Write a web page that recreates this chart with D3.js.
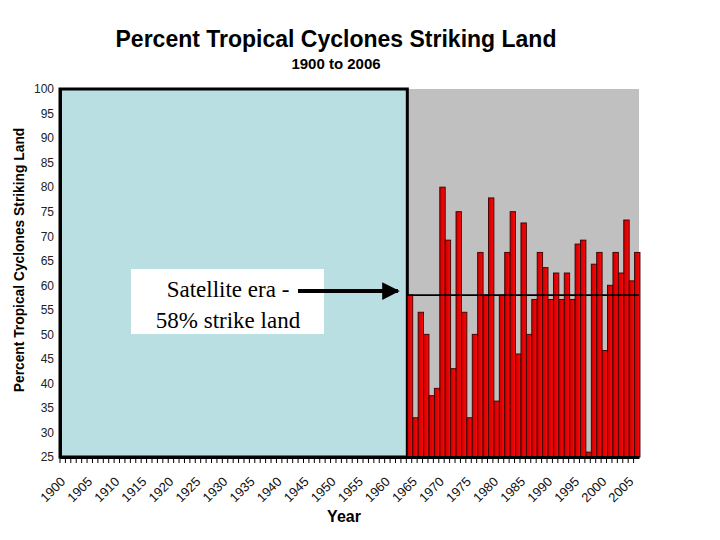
<!DOCTYPE html>
<html>
<head>
<meta charset="utf-8">
<script src="https://cdn.jsdelivr.net/npm/d3@7"></script>
<style>
  body { margin: 0; background: #fff; }
  text { font-family: "Liberation Sans", Arial, sans-serif; }
</style>
</head>
<body>
<div id="chart"></div>
<script>
// years 1900..2006 on the axis, bars only for the satellite era
const firstYear = 1900, lastYear = 2006;
const satelliteStart = 1964;
const percentLand = [
  58, 33, 54.5, 50, 37.5, 39, 80, 69.2, 43, 75,
  54.5, 33, 50, 66.7, 58, 77.8, 36.4, 58, 66.7, 75,
  46, 72.7, 50, 57.1, 66.7, 63.6, 57.1, 62.5, 57.1, 62.5,
  57.1, 68.4, 69.2, 26, 64.3, 66.7, 46.7, 60, 66.7, 62.5,
  73.3, 60.9, 66.7
];
const satelliteMean = 58;
const yTicks = [25, 30, 35, 40, 45, 50, 55, 60, 65, 70, 75, 80, 85, 90, 95, 100];
const annotationLines = ["Satellite era -", "58% strike land"];

const width = 720, height = 540;
const plot = { left: 60, right: 639, top: 89, bottom: 457 };

const years = d3.range(firstYear, lastYear + 1);
const bars = percentLand.map((v, i) => ({ year: satelliteStart + i, value: v }));

const svg = d3.select("#chart").append("svg")
    .attr("width", width)
    .attr("height", height);

const x = d3.scaleBand().domain(years).range([plot.left, plot.right]).padding(0);
const y = d3.scaleLinear().domain([25, 100]).range([plot.bottom, plot.top]);

const defs = svg.append("defs");
const grad = defs.append("linearGradient")
    .attr("id", "barFill").attr("x1", "0").attr("x2", "1");
grad.append("stop").attr("offset", "0%").attr("stop-color", "#c80000");
grad.append("stop").attr("offset", "100%").attr("stop-color", "#ff0808");

defs.append("marker")
    .attr("id", "arrow")
    .attr("viewBox", "0 0 10 10")
    .attr("refX", 9).attr("refY", 5)
    .attr("markerWidth", 5).attr("markerHeight", 4.4)
    .attr("markerUnits", "strokeWidth")
    .attr("orient", "auto")
    .append("path").attr("d", "M0,0L10,5L0,10Z").attr("fill", "#000");

// plot background
svg.append("rect")
    .attr("x", plot.left).attr("y", plot.top)
    .attr("width", plot.right - plot.left).attr("height", plot.bottom - plot.top)
    .attr("fill", "#c0c0c0");

// pre-satellite box
svg.append("rect")
    .attr("x", x(firstYear)).attr("y", y(100))
    .attr("width", x(satelliteStart) - x(firstYear) + 1).attr("height", y(25) - y(100))
    .attr("fill", "#b9dfe3")
    .attr("stroke", "#000").attr("stroke-width", 3);

svg.append("g").selectAll("rect")
    .data(bars)
    .enter().append("rect")
    .attr("x", d => x(d.year) + 1)
    .attr("y", d => y(d.value))
    .attr("width", x.bandwidth())
    .attr("height", d => y(25) - y(d.value))
    .attr("fill", "url(#barFill)")
    .attr("stroke", "#3a0000")
    .attr("stroke-width", 0.9);

// mean line
svg.append("line")
    .attr("x1", x(satelliteStart)).attr("x2", plot.right)
    .attr("y1", y(satelliteMean)).attr("y2", y(satelliteMean))
    .attr("stroke", "#000").attr("stroke-width", 1.6);

// y axis
const yAxis = svg.append("g")
    .attr("transform", `translate(${plot.left},0)`)
    .call(d3.axisLeft(y).tickValues(yTicks).tickSize(0).tickPadding(6));
yAxis.select(".domain").attr("stroke", "#000").attr("stroke-width", 3);
yAxis.selectAll("text").attr("font-size", 12).attr("fill", "#222");

// x axis
const xAxis = svg.append("g")
    .attr("transform", `translate(0,${plot.bottom})`)
    .call(d3.axisBottom(x).tickSize(0).tickFormat(""));
xAxis.select(".domain").attr("stroke", "#000").attr("stroke-width", 3);
svg.append("g").selectAll("line")
    .data(years)
    .enter().append("line")
    .attr("x1", d => x(d)).attr("x2", d => x(d))
    .attr("y1", plot.bottom).attr("y2", plot.bottom + 6)
    .attr("stroke", "#000").attr("stroke-width", 1);

svg.append("g").selectAll("text")
    .data(years.filter(d => d % 5 === 0))
    .enter().append("text")
    .attr("transform", d => `translate(${x(d) + x.bandwidth() / 2 - 3},${plot.bottom + 19}) rotate(-45)`)
    .attr("text-anchor", "end")
    .attr("dy", "0.7em")
    .attr("font-size", 13)
    .attr("fill", "#111")
    .text(d => d);

// titles
svg.append("text")
    .attr("x", 336).attr("y", 47)
    .attr("text-anchor", "middle")
    .attr("font-size", 23).attr("font-weight", "bold")
    .text("Percent Tropical Cyclones Striking Land");
svg.append("text")
    .attr("x", 336).attr("y", 69)
    .attr("text-anchor", "middle")
    .attr("font-size", 15).attr("font-weight", "bold")
    .text("1900 to 2006");
svg.append("text")
    .attr("x", 344).attr("y", 522)
    .attr("text-anchor", "middle")
    .attr("font-size", 16).attr("font-weight", "bold")
    .text("Year");
svg.append("text")
    .attr("transform", "translate(24,260) rotate(-90)")
    .attr("text-anchor", "middle")
    .attr("font-size", 13.8).attr("font-weight", "bold")
    .text("Percent Tropical Cyclones Striking Land");

// annotation
svg.append("rect")
    .attr("x", 131).attr("y", 269).attr("width", 193).attr("height", 65)
    .attr("fill", "#fff");
svg.append("text")
    .attr("x", 228).attr("y", 297)
    .attr("text-anchor", "middle")
    .style("font-family", "'Liberation Serif', 'Times New Roman', serif")
    .attr("font-size", 23)
    .selectAll("tspan")
    .data(annotationLines)
    .enter().append("tspan")
    .attr("x", 228)
    .attr("dy", (d, i) => i === 0 ? 0 : 31)
    .text(d => d);
svg.append("line")
    .attr("x1", 298).attr("y1", y(satelliteMean) - 4)
    .attr("x2", 398).attr("y2", y(satelliteMean) - 4)
    .attr("stroke", "#000").attr("stroke-width", 4)
    .attr("marker-end", "url(#arrow)");
</script>
</body>
</html>
